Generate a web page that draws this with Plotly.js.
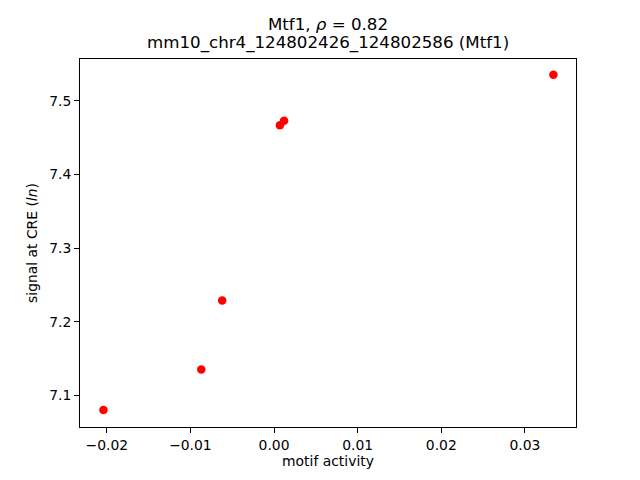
<!DOCTYPE html>
<html>
<head>
<meta charset="utf-8">
<script src="https://cdn.plot.ly/plotly-3.0.1.min.js"></script>
<style>html,body{margin:0;padding:0;background:#fff}#chart{width:640px;height:480px}</style>
</head>
<body>
<div id="chart"></div>
<script>
const motifActivity = [-0.0204, -0.0087, -0.0062, 0.0007, 0.0012, 0.0334];
const signalAtCRE = [7.0803, 7.1355, 7.2292, 7.4669, 7.4733, 7.5357];
const xTicks = [-0.02, -0.01, 0.00, 0.01, 0.02, 0.03];
const yTicks = [7.1, 7.2, 7.3, 7.4, 7.5];
const titleLine1 = 'Mtf1, <i>ρ</i> = 0.82';
const titleLine2 = 'mm10_chr4_124802426_124802586 (Mtf1)';

const font = {family: '"DejaVu Sans", sans-serif', color: '#000'};

const trace = {
  x: motifActivity,
  y: signalAtCRE,
  type: 'scatter',
  mode: 'markers',
  marker: {color: '#ff0000', size: 8.5},
  hoverinfo: 'skip'
};

const axisCommon = {
  showline: true, linecolor: '#000', linewidth: 1, mirror: true,
  ticks: 'outside', ticklen: 4.9, tickwidth: 1, tickcolor: '#000',
  showgrid: false, zeroline: false,
  tickfont: Object.assign({size: 13.9}, font)
};

const layout = {
  width: 640, height: 480,
  margin: {l: 80, r: 64, t: 58.7, b: 53},
  paper_bgcolor: '#fff', plot_bgcolor: '#fff',
  font: font,
  showlegend: false,
  title: {
    text: titleLine1,
    font: Object.assign({size: 16.67}, font),
    x: 0.5, xref: 'paper', xanchor: 'center',
    y: 1 - 24 / 480, yref: 'container', yanchor: 'middle'
  },
  annotations: [{
    text: titleLine2,
    font: Object.assign({size: 16.67}, font),
    xref: 'paper', yref: 'paper', x: 0.5, y: 1,
    xanchor: 'center', yanchor: 'middle', yshift: 15.7,
    showarrow: false
  }],
  xaxis: Object.assign({}, axisCommon, {
    range: [-0.0232, 0.0361],
    tickvals: xTicks, tickformat: '.2f',
    title: {text: 'motif activity', font: Object.assign({size: 13.9}, font), standoff: 4}
  }),
  yaxis: Object.assign({}, axisCommon, {
    range: [7.0573, 7.557],
    tickvals: yTicks, tickformat: '.1f',
    title: {text: 'signal at CRE (<i>ln</i>)', font: Object.assign({size: 13.9}, font), standoff: 8}
  })
};

Plotly.newPlot('chart', [trace], layout, {displayModeBar: false, staticPlot: true});
</script>
</body>
</html>
